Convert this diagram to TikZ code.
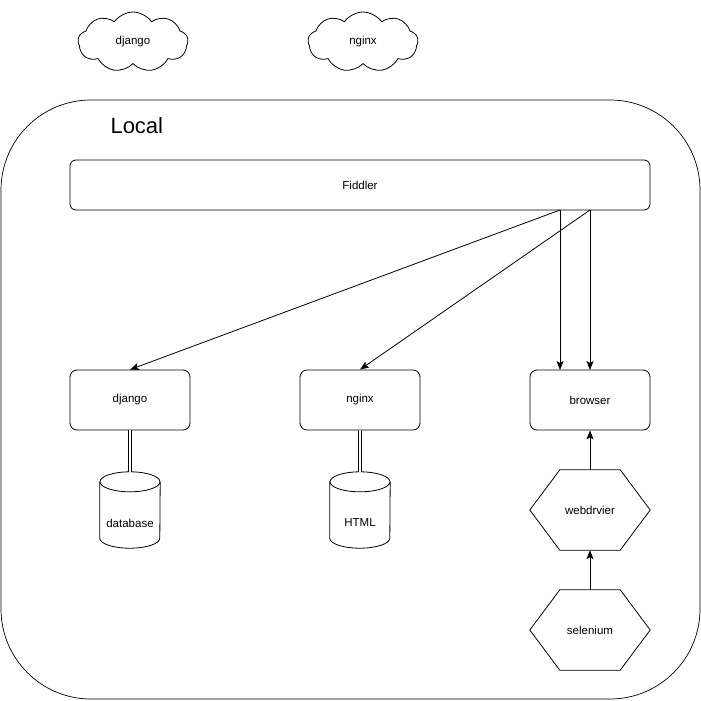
\documentclass[tikz,border=0pt]{standalone}
\usepackage{fontspec}
\setmainfont{Liberation Sans}
\usetikzlibrary{shapes.symbols,arrows.meta}
\begin{document}
\begin{tikzpicture}[x=1pt,y=-1pt,
  every node/.style={font=\fontsize{11.5}{14}\selectfont},
  ln/.style={line width=0.8pt, draw=black},
  rbox/.style={ln, rounded corners=7pt, minimum width=120pt, minimum height=60pt, inner sep=0pt},
  cloudshape/.style={ln, cloud, cloud puffs=9, cloud puff arc=110, aspect=1.8, minimum width=110pt, minimum height=60pt, inner sep=0pt},
  cyl/.style={minimum width=60pt, minimum height=76pt, inner sep=0pt},
  hexa/.style={minimum width=120pt, minimum height=80pt, inner sep=0pt},
  arr/.style={ln, -{Stealth[length=9pt,width=7pt,inset=2pt]}},
  dbl/.style={ln, double, double distance=2.5pt}
]
\useasboundingbox (0,0) rectangle (701,701);
% outer container
\draw[ln, line width=0.7pt, rounded corners=90pt] (1,100) rectangle (700,699);
\node[font=\fontsize{22}{26}\selectfont, anchor=west] (local) at (107,126) {Local};
% clouds
\node[cloudshape] (cdj) at (133,42) {django};
\node[cloudshape] (cng) at (363,42) {nginx};
% fiddler
\node[ln, rounded corners=6pt, minimum width=580pt, minimum height=50pt, inner sep=0pt] (fid) at (360,185) {Fiddler};
\coordinate (f1) at (560,210);
\coordinate (f2) at (590,210);
% boxes
\node[rbox] (dj) at (130,400) {django};
\node[rbox] (ng) at (360,400) {nginx};
\node[rbox] (br) at (590,400) {browser};
\coordinate (b1) at (560,370);
\coordinate (b2) at (590,370);
% arrows from fiddler
\draw[arr] (f1) -- (dj.north);
\draw[arr] (f2) -- (ng.north);
\draw[arr] (f1) -- (b1);
\draw[arr] (f2) -- (b2);
% cylinders
\node[cyl] (db) at (130,510) {};
\node[cyl] (html) at (360,510) {};
\node (dbt) at (130,523) {database};
\node (htmlt) at (360,523) {HTML};
\foreach \c in {db,html}{
  \draw[ln] (\c.north) ++(0,10) ellipse [x radius=30pt, y radius=10pt];
  \draw[ln] ([yshift=-10pt]\c.north west) -- ([yshift=10pt]\c.south west)
     arc[start angle=180, end angle=360, x radius=30pt, y radius=10pt]
     -- ([yshift=-10pt]\c.north east);
}
\draw[dbl] (dj.south) -- (db.north);
\draw[dbl] (ng.south) -- (html.north);
% hexagons
\node[hexa] (web) at (590,510) {webdrvier};
\node[hexa] (sel) at (590,630) {selenium};
\foreach \h in {web,sel}{
  \draw[ln] (\h.west) -- ([xshift=30pt]\h.north west) -- ([xshift=-30pt]\h.north east)
    -- (\h.east) -- ([xshift=-30pt]\h.south east) -- ([xshift=30pt]\h.south west) -- cycle;
}
\draw[arr] (web.north) -- (br.south);
\draw[arr] (sel.north) -- (web.south);
\end{tikzpicture}
\end{document}
